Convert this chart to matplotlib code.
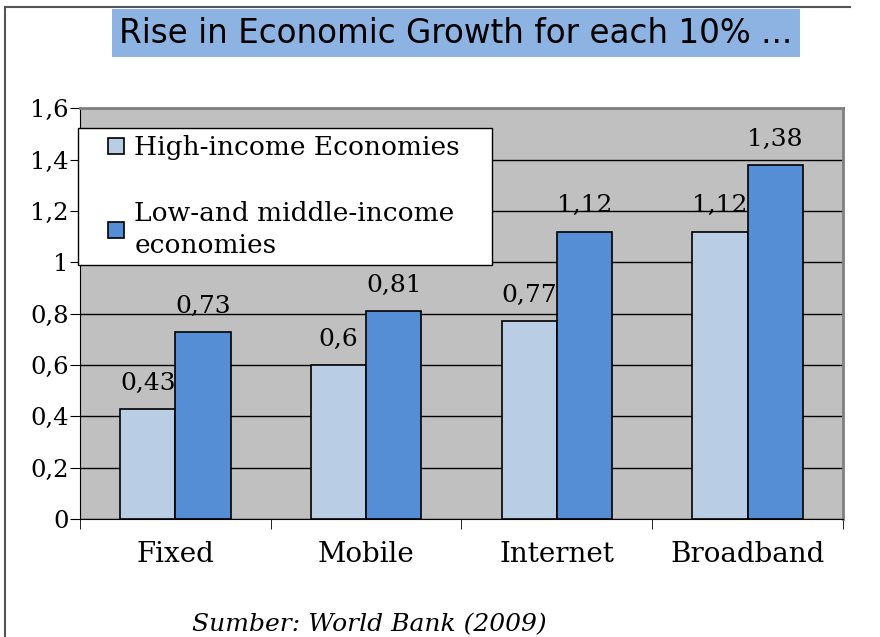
import numpy as np
import matplotlib.pyplot as plt
from matplotlib.lines import Line2D

categories = ["Fixed", "Mobile", "Internet", "Broadband"]
high_income = [0.43, 0.60, 0.77, 1.12]
low_middle = [0.73, 0.81, 1.12, 1.38]
high_labels = ["0,43", "0,6", "0,77", "1,12"]
low_labels = ["0,73", "0,81", "1,12", "1,38"]
y_ticks = [0, 0.2, 0.4, 0.6, 0.8, 1.0, 1.2, 1.4, 1.6]
y_tick_labels = ["0", "0,2", "0,4", "0,6", "0,8", "1", "1,2", "1,4", "1,6"]

serif = "DejaVu Serif"
c_high = "#B9CDE5"
c_low = "#558ED5"

fig = plt.figure(figsize=(8.8, 6.37), dpi=100)
ax = fig.add_axes([0.0909, 0.185, 0.867, 0.645])
ax.set_facecolor("#C0C0C0")

x = np.arange(len(categories))
w = 0.29
ax.bar(x - w / 2, high_income, w, color=c_high, edgecolor="black", linewidth=1.2, zorder=3)
ax.bar(x + w / 2, low_middle, w, color=c_low, edgecolor="black", linewidth=1.2, zorder=3)

for i in range(len(categories)):
    ax.text(x[i] - w / 2, high_income[i] + 0.055, high_labels[i], ha="center", va="bottom",
            fontsize=18, family=serif, zorder=2)
    ax.text(x[i] + w / 2, low_middle[i] + 0.055, low_labels[i], ha="center", va="bottom",
            fontsize=18, family=serif, zorder=4)

ax.set_xlim(-0.5, 3.5)
ax.set_ylim(0, 1.6)
ax.set_yticks(y_ticks)
ax.set_yticklabels(y_tick_labels, fontsize=17.5, family=serif)
ax.set_xticks(x)
ax.set_xticklabels(categories, fontsize=20, family=serif)
ax.tick_params(axis="x", length=0, pad=16)
ax.set_xticks(np.arange(-0.5, 4.0, 1.0), minor=True)
ax.tick_params(axis="x", which="minor", length=7, direction="out", color="black")
ax.tick_params(axis="y", length=7, direction="out", pad=1)
ax.grid(axis="y", color="black", linewidth=1, zorder=1)
ax.set_axisbelow(True)
for s in ["top", "right"]:
    ax.spines[s].set_color("#808080")
    ax.spines[s].set_linewidth(2)
ax.spines["left"].set_color("black")
ax.spines["bottom"].set_color("black")

handles = [
    Line2D([], [], marker="s", linestyle="none", markersize=11, markerfacecolor=c_high,
           markeredgecolor="black", markeredgewidth=1.2),
    Line2D([], [], marker="s", linestyle="none", markersize=11, markerfacecolor=c_low,
           markeredgecolor="black", markeredgewidth=1.2),
]
leg = ax.legend(handles, ["High-income Economies   ", "Low-and middle-income   \neconomies"],
                loc="upper left", bbox_to_anchor=(-0.003, 0.951), frameon=True, fancybox=False,
                edgecolor="black", framealpha=1, prop={"family": serif, "size": 19},
                handletextpad=-0.5, handlelength=2.4, labelspacing=1.55, borderpad=0.25,
                borderaxespad=0)
leg.get_frame().set_linewidth(1)
leg.set_zorder(5)
for t in leg.get_texts():
    t.set_linespacing(1.35)

fig.text(0.518, 0.948, "Rise in Economic Growth for each 10% ...", ha="center", va="center",
         fontsize=23.5, family="DejaVu Sans",
         bbox=dict(boxstyle="square,pad=0.22", facecolor="#8DB3E2", edgecolor="none"))
fig.text(0.42, 0.019, "Sumber: World Bank (2009)", ha="center", va="center",
         fontsize=18, family=serif, style="italic")

fig.add_artist(Line2D([0.006, 0.006], [0, 0.989], color="#555555", linewidth=1.5))
fig.add_artist(Line2D([0.006, 0.966], [0.989, 0.989], color="#555555", linewidth=1.5))

fig.savefig("out.png", dpi=100)
